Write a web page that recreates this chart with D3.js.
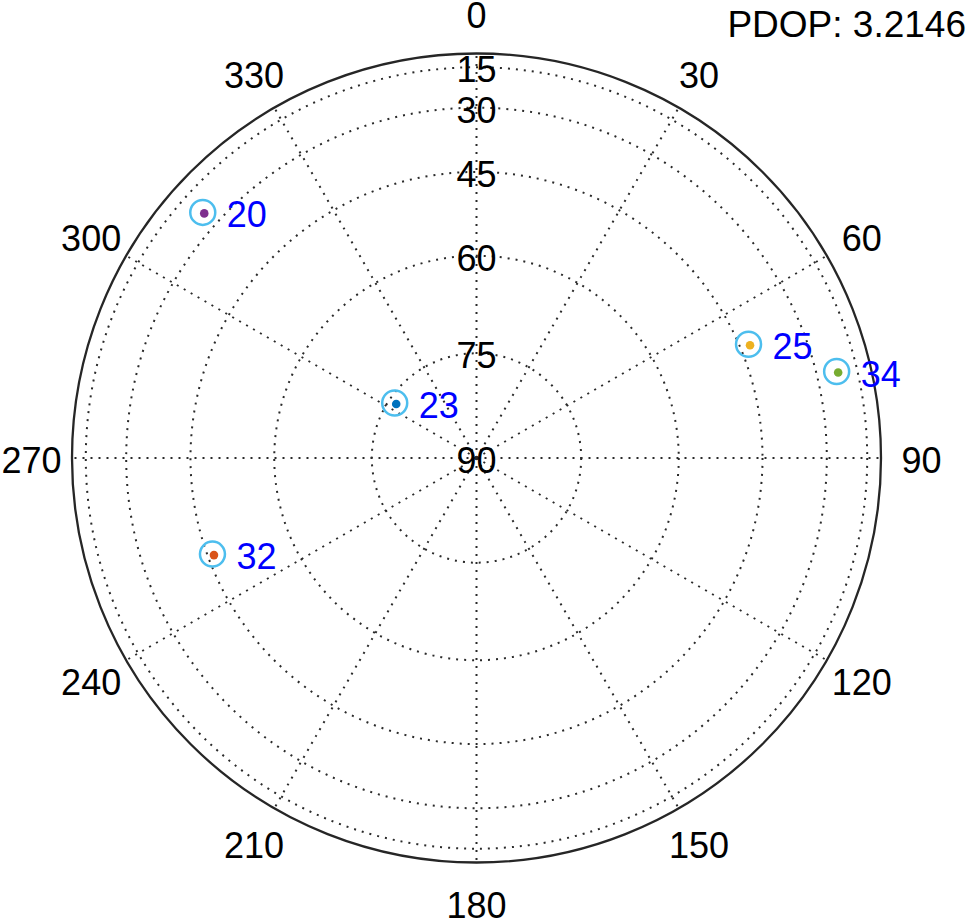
<!DOCTYPE html>
<html>
<head>
<meta charset="utf-8">
<script src="https://cdn.jsdelivr.net/npm/d3@7"></script>
<style>
  body { margin: 0; background: #fff; }
  svg { display: block; font-family: "Liberation Sans", Arial, Helvetica, sans-serif; }
</style>
</head>
<body>
<div id="sky"></div>
<script>
// satellites
const prn = [23, 32, 25, 20, 34]
const azimuth = [303.9, 250.0, 67.3, 311.9, 76.5]
const elevation = [75.9, 46.0, 43.2, 24.6, 23.7]
const dotColors = ["#0072BD", "#D95319", "#EDB120", "#7E2F8E", "#77AC30"]

const azTicks = [0, 30, 60, 90, 120, 150, 180, 210, 240, 270, 300, 330]
const elTicks = [15, 30, 45, 60, 75]
const elLabels = ["15", "30", "45", "60", "75", "90"]
const pdop = "PDOP: 3.2146"

const config = {
  "w": 969,
  "h": 920,
  "cx": 476.5,
  "cy": 458,
  "R": 404.5,
}

const rad = d => d * Math.PI / 180

// radius goes with cos(elevation)
const r_scale = d3.scaleLinear().domain([0, 1]).range([0, config["R"]])
const elToR = el => r_scale(Math.cos(rad(el)))
const az_scale = d3.scaleLinear().domain([0, 360]).range([0, 2 * Math.PI])

const px = (az, r) => config["cx"] + r * Math.sin(az_scale(az))
const py = (az, r) => config["cy"] - r * Math.cos(az_scale(az))

const svg = d3.select("#sky")
              .append("svg")
              .attr("width", config["w"])
              .attr("height", config["h"])

const grid = svg.append("g")
                .attr("fill", "none")
                .attr("stroke", "#2a2a2a")
                .attr("stroke-width", 2)
                .attr("stroke-dasharray", "2,6")

grid.selectAll("circle")
    .data(elTicks)
    .enter()
    .append("circle")
    .attr("cx", config["cx"])
    .attr("cy", config["cy"])
    .attr("r", d => elToR(d))

grid.selectAll("line")
    .data(azTicks)
    .enter()
    .append("line")
    .attr("x1", config["cx"])
    .attr("y1", config["cy"])
    .attr("x2", d => px(d, r_scale(1)))
    .attr("y2", d => py(d, r_scale(1)))

svg.append("circle")
   .attr("cx", config["cx"])
   .attr("cy", config["cy"])
   .attr("r", r_scale(1))
   .attr("fill", "none")
   .attr("stroke", "#262626")
   .attr("stroke-width", 2.3)

// azimuth labels
svg.append("g")
   .selectAll("text")
   .data(azTicks)
   .enter()
   .append("text")
   .attr("x", d => px(d, r_scale(1.1)))
   .attr("y", d => py(d, r_scale(1.1)) + 15)
   .attr("text-anchor", "middle")
   .attr("font-size", 36)
   .attr("fill", "#000")
   .text(d => d)

// elevation labels on the 0 spoke
svg.append("g")
   .selectAll("text")
   .data(elLabels)
   .enter()
   .append("text")
   .attr("x", config["cx"])
   .attr("y", d => config["cy"] - elToR(+d) + 15)
   .attr("text-anchor", "middle")
   .attr("font-size", 36)
   .attr("fill", "#000")
   .text(d => d)

const sats = prn.map((p, i) => ({
  prn: p,
  x: px(azimuth[i], elToR(elevation[i])),
  y: py(azimuth[i], elToR(elevation[i])),
  color: dotColors[i]
}))

const sat = svg.append("g")
               .selectAll("g")
               .data(sats)
               .enter()
               .append("g")

sat.append("circle")
   .attr("cx", d => d.x)
   .attr("cy", d => d.y)
   .attr("r", 12.5)
   .attr("fill", "none")
   .attr("stroke", "#4DBEEE")
   .attr("stroke-width", 2.5)

sat.append("circle")
   .attr("cx", d => d.x + 1.5)
   .attr("cy", d => d.y + 1)
   .attr("r", 4.3)
   .attr("fill", d => d.color)

sat.append("text")
   .attr("x", d => d.x + 24)
   .attr("y", d => d.y + 15)
   .attr("font-size", 36)
   .attr("fill", "#0000FF")
   .text(d => d.prn)

svg.append("text")
   .attr("x", 966)
   .attr("y", 37)
   .attr("text-anchor", "end")
   .attr("font-size", 37)
   .attr("fill", "#000")
   .text(pdop)
</script>
</body>
</html>
